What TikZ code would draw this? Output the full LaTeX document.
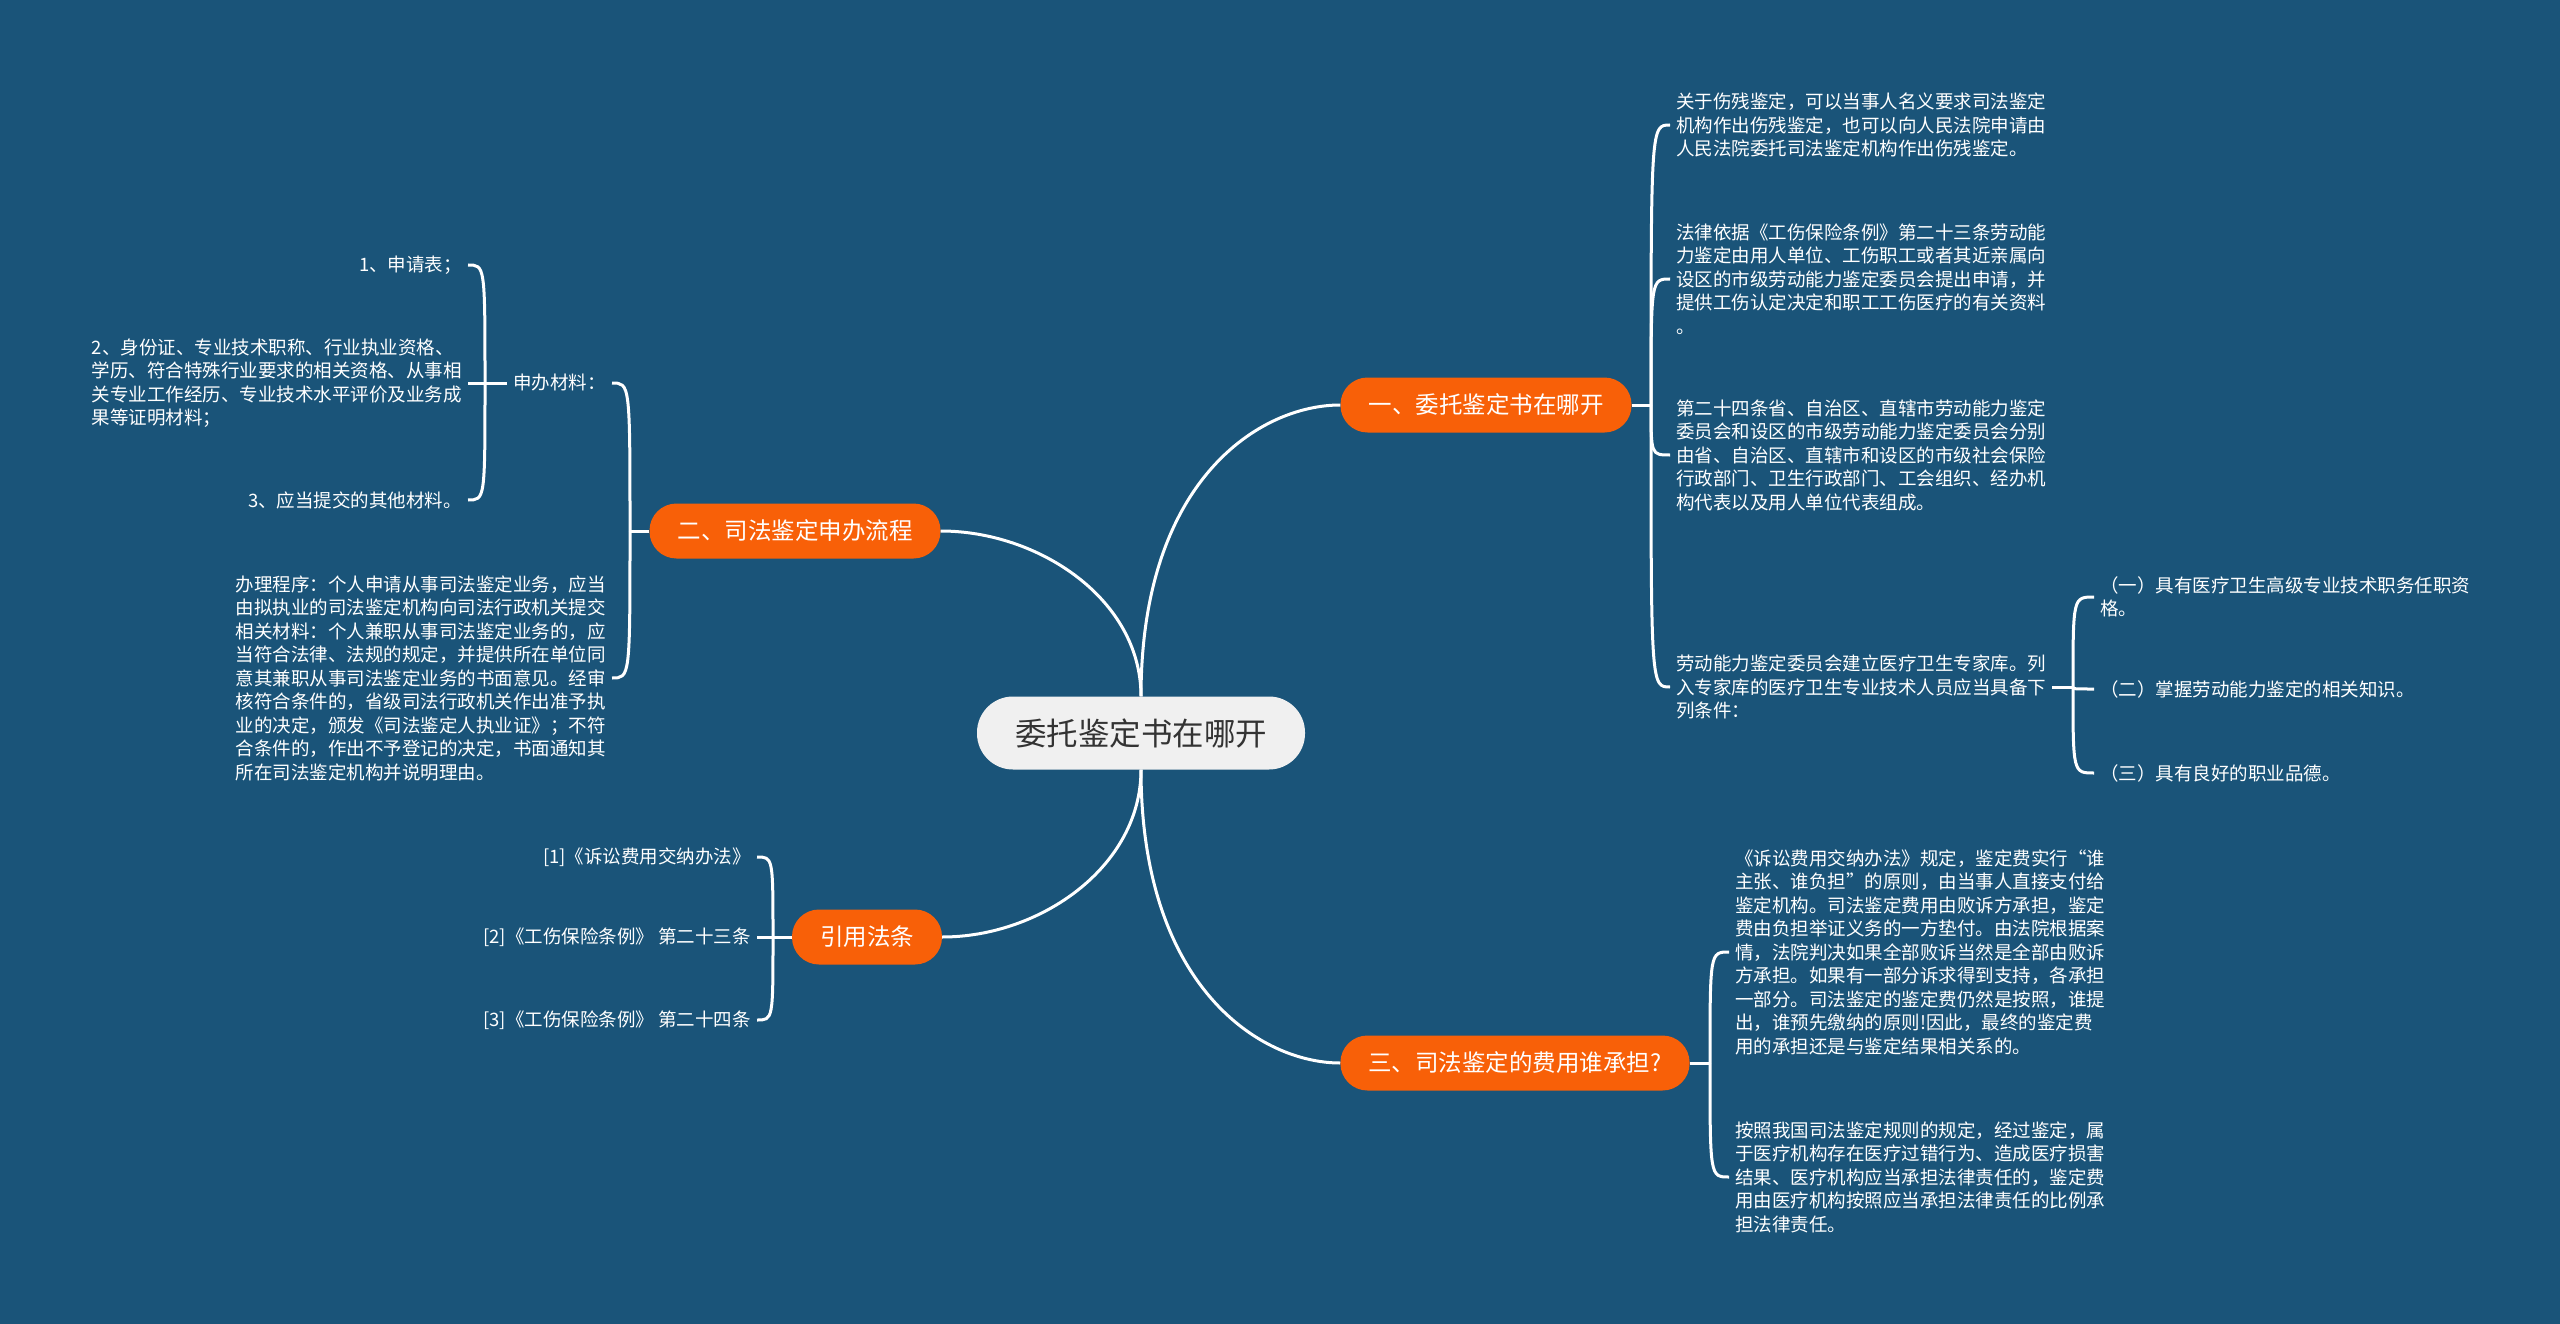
\documentclass[tikz,border=0pt]{standalone}
\usepackage{fontspec}
\setmainfont{Noto Sans CJK SC}
\definecolor{bgblue}{HTML}{1A5479}
\definecolor{topicor}{HTML}{F86008}
\definecolor{rootfill}{HTML}{F0F0F0}
\definecolor{roottext}{HTML}{333333}

\begin{document}
\begin{tikzpicture}[x=1pt, y=-1pt,
  rootbox/.style={fill=rootfill, text=roottext, rounded corners=36pt,
    minimum height=73pt, inner xsep=38pt, font=\fontsize{31.5}{36}\selectfont},
  topic/.style={fill=topicor, text=white, rounded corners=27pt,
    minimum height=55pt, inner xsep=28pt, font=\fontsize{23.5}{28}\selectfont},
  leaf/.style={text=white, align=left, inner sep=6pt,
    font=\fontsize{18.5}{23.5}\selectfont},
  link/.style={draw=white, line width=3pt}]

% Background
\useasboundingbox (0,0) rectangle (2560,1324);
\fill[bgblue] (0,0) rectangle (2560,1324);

% Centre topic and main topics
\node[rootbox] (root) at (1141,733) {委托鉴定书在哪开};
\node[topic] (t1) at (1486,405) {一、委托鉴定书在哪开};
\node[topic] (t2) at (795,531) {二、司法鉴定申办流程};
\node[topic] (t3) at (1515,1063) {三、司法鉴定的费用谁承担?};
\node[topic] (t4) at (867,937) {引用法条};

\draw[link] (root.north) .. controls +(0,-217) and +(-80,0) .. (t1.west);
\draw[link] (root.north) .. controls +(0,-97) and +(98,0) .. (t2.east);
\draw[link] (root.south) .. controls +(0,217) and +(-80,0) .. (t3.west);
\draw[link] (root.south) .. controls +(0,97) and +(98,0) .. (t4.east);

% --- 一、委托鉴定书在哪开 ---
\node[leaf, anchor=west] (s11) at (1670,125)
  {关于伤残鉴定，可以当事人名义要求司法鉴定\\机构作出伤残鉴定，也可以向人民法院申请由\\人民法院委托司法鉴定机构作出伤残鉴定。};
\node[leaf, anchor=west] (s12) at (1670,279)
  {法律依据《工伤保险条例》第二十三条劳动能\\力鉴定由用人单位、工伤职工或者其近亲属向\\设区的市级劳动能力鉴定委员会提出申请，并\\提供工伤认定决定和职工工伤医疗的有关资料\\。};
\node[leaf, anchor=west] (s13) at (1670,455)
  {第二十四条省、自治区、直辖市劳动能力鉴定\\委员会和设区的市级劳动能力鉴定委员会分别\\由省、自治区、直辖市和设区的市级社会保险\\行政部门、卫生行政部门、工会组织、经办机\\构代表以及用人单位代表组成。};
\node[leaf, anchor=west] (s14) at (1670,687)
  {劳动能力鉴定委员会建立医疗卫生专家库。列\\入专家库的医疗卫生专业技术人员应当具备下\\列条件：};

\coordinate (j1) at (1651,405);
\draw[link] (t1.east) -- (j1);
\draw[link] (j1) .. controls (j1 |- s11.west) and (j1 |- s11.west) .. (s11.west);
\draw[link] (j1) .. controls (j1 |- s12.west) and (j1 |- s12.west) .. (s12.west);
\draw[link] (j1) .. controls (j1 |- s13.west) and (j1 |- s13.west) .. (s13.west);
\draw[link] (j1) .. controls (j1 |- s14.west) and (j1 |- s14.west) .. (s14.west);

% conditions of the expert pool
\node[leaf, anchor=west] (s141) at (2094,597)
  {（一）具有医疗卫生高级专业技术职务任职资\\格。};
\node[leaf, anchor=west] (s142) at (2094,689) {（二）掌握劳动能力鉴定的相关知识。};
\node[leaf, anchor=west] (s143) at (2094,773) {（三）具有良好的职业品德。};

\coordinate (j14) at (2073,687);
\draw[link] (s14.east) -- (j14);
\draw[link] (j14) .. controls (j14 |- s141.west) and (j14 |- s141.west) .. (s141.west);
\draw[link] (j14) .. controls (j14 |- s142.west) and (j14 |- s142.west) .. (s142.west);
\draw[link] (j14) .. controls (j14 |- s143.west) and (j14 |- s143.west) .. (s143.west);

% --- 二、司法鉴定申办流程 ---
\node[leaf, anchor=east] (s21) at (612,383) {申办材料：};
\node[leaf, anchor=east] (s22) at (612,678)
  {办理程序：个人申请从事司法鉴定业务，应当\\由拟执业的司法鉴定机构向司法行政机关提交\\相关材料：个人兼职从事司法鉴定业务的，应\\当符合法律、法规的规定，并提供所在单位同\\意其兼职从事司法鉴定业务的书面意见。经审\\核符合条件的，省级司法行政机关作出准予执\\业的决定，颁发《司法鉴定人执业证》；不符\\合条件的，作出不予登记的决定，书面通知其\\所在司法鉴定机构并说明理由。};

\coordinate (j2) at (630,531);
\draw[link] (t2.west) -- (j2);
\draw[link] (j2) .. controls (j2 |- s21.east) and (j2 |- s21.east) .. (s21.east);
\draw[link] (j2) .. controls (j2 |- s22.east) and (j2 |- s22.east) .. (s22.east);

% application materials
\node[leaf, anchor=east] (s211) at (468,265) {1、申请表；};
\node[leaf, anchor=east] (s212) at (468,383)
  {2、身份证、专业技术职称、行业执业资格、\\学历、符合特殊行业要求的相关资格、从事相\\关专业工作经历、专业技术水平评价及业务成\\果等证明材料；};
\node[leaf, anchor=east] (s213) at (468,500) {3、应当提交的其他材料。};

\coordinate (j21) at (485,383);
\draw[link] (s21.west) -- (j21);
\draw[link] (j21) .. controls (j21 |- s211.east) and (j21 |- s211.east) .. (s211.east);
\draw[link] (j21) -- (s212.east);
\draw[link] (j21) .. controls (j21 |- s213.east) and (j21 |- s213.east) .. (s213.east);

% --- 三、司法鉴定的费用谁承担? ---
\node[leaf, anchor=west] (s31) at (1729,952)
  {《诉讼费用交纳办法》规定，鉴定费实行“谁\\主张、谁负担”的原则，由当事人直接支付给\\鉴定机构。司法鉴定费用由败诉方承担，鉴定\\费由负担举证义务的一方垫付。由法院根据案\\情，法院判决如果全部败诉当然是全部由败诉\\方承担。如果有一部分诉求得到支持，各承担\\一部分。司法鉴定的鉴定费仍然是按照，谁提\\出，谁预先缴纳的原则!因此，最终的鉴定费\\用的承担还是与鉴定结果相关系的。};
\node[leaf, anchor=west] (s32) at (1729,1177)
  {按照我国司法鉴定规则的规定，经过鉴定，属\\于医疗机构存在医疗过错行为、造成医疗损害\\结果、医疗机构应当承担法律责任的，鉴定费\\用由医疗机构按照应当承担法律责任的比例承\\担法律责任。};

\coordinate (j3) at (1710,1063);
\draw[link] (t3.east) -- (j3);
\draw[link] (j3) .. controls (j3 |- s31.west) and (j3 |- s31.west) .. (s31.west);
\draw[link] (j3) .. controls (j3 |- s32.west) and (j3 |- s32.west) .. (s32.west);

% --- 引用法条 ---
\node[leaf, anchor=east] (s41) at (757,857) {[1]《诉讼费用交纳办法》};
\node[leaf, anchor=east] (s42) at (757,937) {[2]《工伤保险条例》 第二十三条};
\node[leaf, anchor=east] (s43) at (757,1020) {[3]《工伤保险条例》 第二十四条};

\coordinate (j4) at (773,937);
\draw[link] (t4.west) -- (j4);
\draw[link] (j4) .. controls (j4 |- s41.east) and (j4 |- s41.east) .. (s41.east);
\draw[link] (j4) -- (s42.east);
\draw[link] (j4) .. controls (j4 |- s43.east) and (j4 |- s43.east) .. (s43.east);

\end{tikzpicture}
\end{document}
